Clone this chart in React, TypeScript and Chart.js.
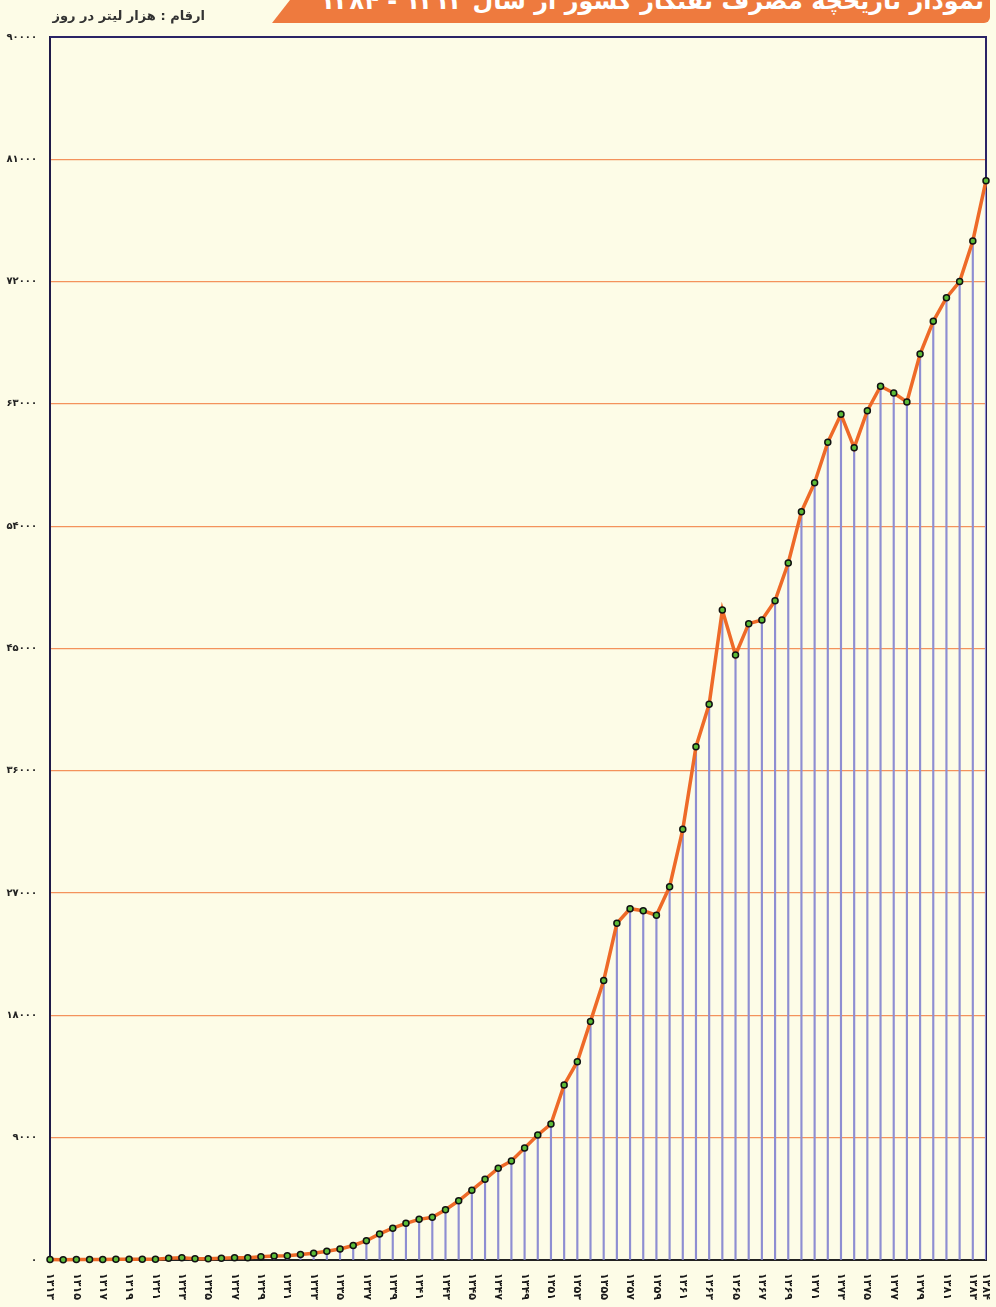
import React, { useEffect, useRef } from "react";
import { Chart, registerables } from "chart.js";

Chart.register(...registerables);

const years: number[] = [
  1313, 1314, 1315, 1316, 1317, 1318, 1319, 1320, 1321, 1322, 1323, 1324,
  1325, 1326, 1327, 1328, 1329, 1330, 1331, 1332, 1333, 1334, 1335, 1336,
  1337, 1338, 1339, 1340, 1341, 1342, 1343, 1344, 1345, 1346, 1347, 1348,
  1349, 1350, 1351, 1352, 1353, 1354, 1355, 1356, 1357, 1358, 1359, 1360,
  1361, 1362, 1363, 1364, 1365, 1366, 1367, 1368, 1369, 1370, 1371, 1372,
  1373, 1374, 1375, 1376, 1377, 1378, 1379, 1380, 1381, 1382, 1383, 1384,
];

const consumption: number[] = [
  30, 20, 40, 40, 40, 60, 60, 60, 60, 130, 170, 100,
  100, 130, 170, 170, 240, 290, 320, 410, 490, 640, 810, 1070,
  1420, 1920, 2340, 2700, 2990, 3140, 3700, 4360, 5140, 5940, 6750, 7290,
  8240, 9200, 10010, 12880, 14590, 17560, 20560, 24780, 25850, 25700, 25370, 27470,
  31690, 37770, 40890, 47830, 44520, 46830, 47100, 48520, 51290, 55070, 57200, 60170,
  62230, 59780, 62500, 64300, 63800, 63140, 66670, 69080, 70820, 72000, 74990, 79430,
];

const labeledYears: number[] = [
  1313, 1315, 1317, 1319, 1321, 1323, 1325, 1327, 1329, 1331, 1333, 1335,
  1337, 1339, 1341, 1343, 1345, 1347, 1349, 1351, 1353, 1355, 1357, 1359,
  1361, 1363, 1365, 1367, 1369, 1371, 1373, 1375, 1377, 1379, 1381, 1383, 1384,
];

const yMin = 0;
const yMax = 90000;
const yStep = 9000;

const titleText = "نمودار تاریخچه مصرف نفتگاز کشور از سال ۱۳۱۳ - ۱۳۸۴";
const unitText = "ارقام :  هزار لیتر در روز";

const toFa = (v: number | string) =>
  String(v).replace(/[0-9]/g, (d) => String.fromCharCode(0x06f0 + Number(d)));

const FONT = '"DejaVu Sans", "Noto Sans", sans-serif';

const framePlugin = {
  id: "frame",
  beforeDatasetsDraw(chart: any) {
    const { ctx, chartArea } = chart;
    ctx.save();
    ctx.strokeStyle = "#2a2466";
    ctx.lineWidth = 2;
    ctx.beginPath();
    ctx.moveTo(chartArea.left, chartArea.top);
    ctx.lineTo(chartArea.right, chartArea.top);
    ctx.lineTo(chartArea.right, chartArea.bottom);
    ctx.stroke();
    ctx.restore();
  },
};

const xLabelPlugin = {
  id: "xLabels",
  afterDraw(chart: any) {
    const { ctx, chartArea } = chart;
    const x = chart.scales.x;
    ctx.save();
    ctx.font = `bold 11px ${FONT}`;
    ctx.fillStyle = "#1a1a1a";
    ctx.textAlign = "left";
    ctx.textBaseline = "middle";
    years.forEach((yr, i) => {
      if (!labeledYears.includes(yr)) return;
      const px = x.getPixelForValue(i);
      ctx.save();
      ctx.translate(px, chartArea.bottom + 13);
      ctx.rotate(Math.PI / 2);
      ctx.fillText(toFa(yr), 0, 0);
      ctx.restore();
    });
    ctx.restore();
  },
};

function ConsumptionChart() {
  const ref = useRef<HTMLCanvasElement | null>(null);
  useEffect(() => {
    if (!ref.current) return;
    const chart = new Chart(ref.current, {
      type: "line",
      data: {
        labels: years.map((y) => String(y)),
        datasets: [
          {
            type: "line",
            data: consumption,
            borderColor: "#ee6a28",
            borderWidth: 3.5,
            pointBackgroundColor: "#5cbc38",
            pointBorderColor: "#111",
            pointBorderWidth: 1.5,
            pointRadius: 3,
            tension: 0,
            clip: false,
            order: 0,
          } as any,
          {
            type: "bar",
            data: consumption,
            backgroundColor: "#8e8ed2",
            barThickness: 1.5,
            order: 1,
          } as any,
        ],
      },
      options: {
        responsive: false,
        animation: false,
        devicePixelRatio: 1,
        layout: { padding: { top: 37, right: 10, left: 0, bottom: 0 } },
        plugins: { legend: { display: false }, tooltip: { enabled: false } },
        scales: {
          x: {
            type: "category",
            offset: false,
            grid: { display: false },
            border: { display: true, color: "#222", width: 2 },
            ticks: { display: false },
            afterFit: (s: any) => {
              s.height = 47;
            },
          },
          y: {
            min: yMin,
            max: yMax,
            ticks: {
              stepSize: yStep,
              padding: 13,
              color: "#222",
              font: { family: FONT, size: 10, weight: "bold" },
              callback: (v: any) => toFa(v),
            },
            grid: {
              drawTicks: false,
              lineWidth: 1.2,
              color: (c: any) =>
                c.tick && (c.tick.value === yMin || c.tick.value === yMax)
                  ? "rgba(0,0,0,0)"
                  : "#f4925c",
            },
            border: { display: true, color: "#1f1a4a", width: 2 },
            afterFit: (s: any) => {
              s.width = 50;
            },
          },
        },
      },
      plugins: [framePlugin, xLabelPlugin],
    });
    return () => chart.destroy();
  }, []);
  return <canvas ref={ref} width={996} height={1307} style={{ display: "block" }} />;
}

export default function App() {
  return (
    <div
      style={{
        position: "absolute",
        left: 0,
        top: 0,
        width: 996,
        height: 1307,
        background: "#fdfce7",
        overflow: "hidden",
        fontFamily: FONT,
      }}
    >
      <ConsumptionChart />
      <div
        style={{
          position: "absolute",
          left: 272,
          top: 0,
          width: 718,
          height: 23,
          background: "#ee7a3e",
          clipPath: "polygon(18px 0, 100% 0, 100% 100%, 0 100%)",
          borderRadius: "0 0 6px 0",
          overflow: "hidden",
        }}
      >
        <div
          dir="rtl"
          style={{
            position: "absolute",
            right: 6,
            top: -11,
            lineHeight: "24px",
            fontSize: 24,
            fontWeight: "bold",
            color: "#fff",
            whiteSpace: "nowrap",
          }}
        >
          {titleText}
        </div>
      </div>
      <div
        dir="rtl"
        style={{
          position: "absolute",
          left: 20,
          width: 185,
          top: 8,
          textAlign: "right",
          fontSize: 13,
          fontWeight: "bold",
          color: "#333",
          whiteSpace: "nowrap",
        }}
      >
        {unitText}
      </div>
    </div>
  );
}
